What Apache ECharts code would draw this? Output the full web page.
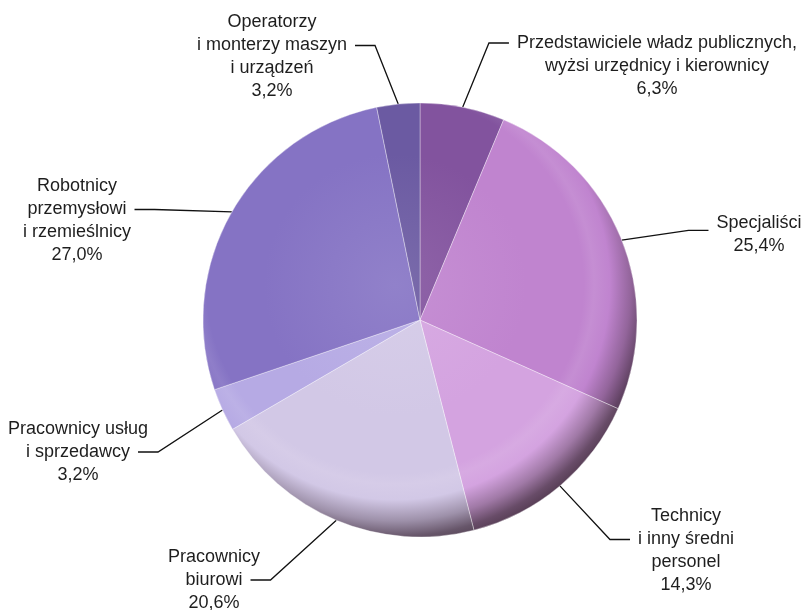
<!DOCTYPE html>
<html>
<head>
<meta charset="utf-8">
<script src="https://cdn.jsdelivr.net/npm/echarts@6/dist/echarts.min.js"></script>
<style>
  html, body { margin: 0; background: #fff; }
  #chart { width: 803px; height: 610px; }
</style>
</head>
<body>
<div id="chart"></div>
<script>
// dane: grupy zawodów (zgodnie z ruchem wskazówek zegara od godz. 12)
const groups = [
  'Przedstawiciele władz publicznych,\nwyżsi urzędnicy i kierownicy',
  'Specjaliści',
  'Technicy\ni inny średni\npersonel',
  'Pracownicy\nbiurowi',
  'Pracownicy usług\ni sprzedawcy',
  'Robotnicy\nprzemysłowi\ni rzemieślnicy',
  'Operatorzy\ni monterzy maszyn\ni urządzeń'
]
const shares = [6.3, 25.4, 14.3, 20.6, 3.2, 27.0, 3.2]
const sliceColors = ['#82539e', '#c084cf', '#d4a3e0', '#d2c8e6', '#b6aae4', '#8573c4', '#6b5aa2']

// położenie opisów: środek bloku tekstu + numer wiersza, do którego dochodzi linia
const labelPos = [[657, 66, 0], [759, 235, 0.3], [686, 551, 1], [214, 580, 1], [78, 452, 1], [77, 221, 1], [272, 57, 1]]

const FONT = '"Liberation Sans", Arial, sans-serif'
const FONT_SIZE = 18
const LINE_H = 23
const CX = 420, CY = 320, R = 217

const ctx = document.createElement('canvas').getContext('2d')
ctx.font = FONT_SIZE + 'px ' + FONT
function textWidth(s) { return ctx.measureText(s).width }

function fmt(v) { return v.toFixed(1).replace('.', ',') + '%' }
function labelLines(i) { return groups[i].split('\n').concat(fmt(shares[i])) }

// mieszanie kolorów do cieniowania brzegu
function mix(hex, target, t) {
  const a = parseInt(hex.slice(1), 16), b = parseInt(target.slice(1), 16)
  const ch = (s) => Math.round(((a >> s) & 255) * (1 - t) + ((b >> s) & 255) * t)
  return 'rgb(' + ch(16) + ',' + ch(8) + ',' + ch(0) + ')'
}
function shade(c) {
  return {
    type: 'radial', x: 395, y: 285, r: 262, global: true,
    colorStops: [
      { offset: 0, color: mix(c, '#ffffff', 0.1) },
      { offset: 0.5, color: c },
      { offset: 0.72, color: c },
      { offset: 0.76, color: mix(c, '#ffffff', 0.08) },
      { offset: 0.82, color: c },
      { offset: 0.9, color: mix(c, '#3e2a3a', 0.35) },
      { offset: 0.96, color: mix(c, '#3e2a3a', 0.72) },
      { offset: 1, color: mix(c, '#3e2a3a', 0.85) }
    ]
  }
}

const myChart = echarts.init(document.getElementById('chart'))
const option = {
  animation: false,
  series: [{
    type: 'pie',
    center: [CX, CY],
    radius: [0, R],
    startAngle: 90,
    clockwise: true,
    avoidLabelOverlap: false,
    itemStyle: { borderColor: 'rgba(255,255,255,0.35)', borderWidth: 1 },
    label: {
      show: true,
      formatter: (p) => labelLines(p.dataIndex).map(l => '{c|' + l + '}').join('\n'),
      rich: {
        c: { fontFamily: FONT, fontSize: FONT_SIZE, lineHeight: LINE_H, color: '#1e1e1e', align: 'center' }
      }
    },
    labelLine: { show: true, lineStyle: { color: '#111', width: 1.3 } },
    labelLayout: function (p) {
      const i = p.dataIndex
      const pos = labelPos[i]
      const lines = labelLines(i)
      const hookY = pos[1] - lines.length * LINE_H / 2 + (pos[2] + 0.5) * LINE_H
      const w = textWidth(lines[Math.round(pos[2])])
      const right = pos[0] > CX
      const endX = right ? pos[0] - w / 2 - 8 : pos[0] + w / 2 + 8
      const elbowX = right ? endX - 20 : endX + 20
      let start = p.labelLinePoints && p.labelLinePoints[0]
      if (!start) {
        let acc = 0
        for (let k = 0; k < i; k++) acc += shares[k]
        const a = (acc + shares[i] / 2) / 100 * 2 * Math.PI
        start = [CX + R * Math.sin(a), CY - R * Math.cos(a)]
      }
      return {
        x: pos[0], y: pos[1], align: 'center', verticalAlign: 'middle',
        labelLinePoints: [start, [elbowX, hookY], [endX, hookY]]
      }
    },
    emphasis: { disabled: true },
    data: groups.map((g, i) => ({
      name: g,
      value: shares[i],
      itemStyle: { color: shade(sliceColors[i]) }
    }))
  }]
}
myChart.setOption(option)
</script>
</body>
</html>
